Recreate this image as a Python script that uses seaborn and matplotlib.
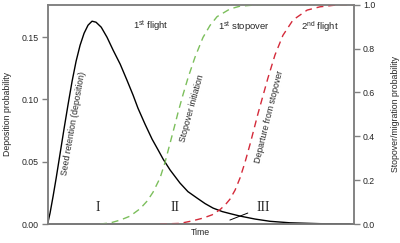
import numpy as np
import pandas as pd
import seaborn as sns
import matplotlib.pyplot as plt
import matplotlib

sns.set_theme(style="white")
plt.rcParams['font.family'] = ['Liberation Sans', 'DejaVu Sans']
plt.rcParams['mathtext.fontset'] = 'custom'
plt.rcParams['mathtext.rm'] = 'Liberation Sans'

# seed deposition curve (left axis)
dep_time = [0.0, 0.08, 0.18, 0.28, 0.41, 0.54, 0.67, 0.80, 0.93, 1.06, 1.19, 1.32, 1.45,
            1.58, 1.75, 1.94, 2.14, 2.37, 2.59, 2.79, 2.95, 3.18, 3.41, 3.61, 3.77, 4.00,
            4.32, 4.58, 4.88, 5.14, 5.40, 5.70, 5.95, 6.28, 6.77, 7.26, 7.91, 8.89, 9.87]
dep_prob = [0.0, 0.0088, 0.0224, 0.0369, 0.0569, 0.0769, 0.0962, 0.1146, 0.1306, 0.1434,
            0.1530, 0.1595, 0.1627, 0.1619, 0.1579, 0.1498, 0.1394, 0.1282, 0.1154, 0.1034,
            0.0929, 0.0801, 0.0681, 0.0593, 0.0521, 0.0433, 0.0329, 0.0260, 0.0208, 0.0164,
            0.0128, 0.0100, 0.0084, 0.0064, 0.0040, 0.0022, 0.0010, 0.0003, 0.0]

# stopover initiation (right axis)
stop_time = [1.71, 2.04, 2.37, 2.69, 3.02, 3.25, 3.44, 3.67, 3.83, 4.00, 4.16, 4.26, 4.42,
             4.58, 4.81, 5.07, 5.30, 5.53, 5.95, 6.28, 6.93, 10.0]
stop_prob = [0.0, 0.005, 0.018, 0.036, 0.070, 0.105, 0.145, 0.21, 0.28, 0.37, 0.455, 0.51,
             0.59, 0.665, 0.76, 0.85, 0.905, 0.945, 0.98, 0.993, 1.0, 1.0]

# departure from stopover (right axis)
dept_time = [3.67, 4.32, 4.71, 5.07, 5.37, 5.63, 5.80, 5.95, 6.12, 6.28, 6.44, 6.61, 6.74,
             6.87, 7.00, 7.19, 7.42, 7.68, 8.01, 8.47, 8.89, 9.54, 10.0]
dept_prob = [0.0, 0.003, 0.014, 0.027, 0.042, 0.066, 0.088, 0.113, 0.155, 0.21, 0.28, 0.365,
             0.435, 0.505, 0.57, 0.665, 0.77, 0.86, 0.93, 0.975, 0.99, 1.0, 1.0]

left_ticks = [0.0, 0.05, 0.10, 0.15]
right_ticks = [0.0, 0.2, 0.4, 0.6, 0.8, 1.0]

spine_col = '#808080'
fs = 6.3

fig = plt.figure(figsize=(4, 2.43), dpi=100)
ax = fig.add_axes([0.119, 0.078, 0.766, 0.903])
ax2 = ax.twinx()

sns.lineplot(x=dep_time, y=dep_prob, ax=ax, color='black', lw=1.0)
sns.lineplot(x=stop_time, y=stop_prob, ax=ax2, color='#7cbf5c', lw=1.0, linestyle='--')
sns.lineplot(x=dept_time, y=dept_prob, ax=ax2, color='#d42a3a', lw=1.0, linestyle='--')
for ln in ax2.lines:
    ln.set_dashes((5, 3.5))

ax.set_xlim(0, 10)
ax.set_ylim(0, 0.176)
ax2.set_ylim(0, 1.0)
ax.set_xticks([])
ax.set_yticks(left_ticks)
ax.set_yticklabels(['0.00', '0.05', '0.10', '0.15'])
ax2.set_yticks(right_ticks)
ax2.set_yticklabels(['0.0', '0.2', '0.4', '0.6', '0.8', '1.0'])

for a in (ax, ax2):
    for s in a.spines.values():
        s.set_color(spine_col)
        s.set_linewidth(1.1)
    a.tick_params(axis='y', direction='out', length=4.5, width=1.0, color=spine_col,
                  labelsize=fs, pad=2)
ax.spines['bottom'].set_color('#404040')
ax.tick_params(axis='y', left=True)
ax2.tick_params(axis='y', right=True)

ax.set_ylabel('Deposition probability', fontsize=fs, labelpad=7)
ax2.set_ylabel('Stopover/migration probability', fontsize=fs, labelpad=11)
ax.set_xlabel('Time', fontsize=fs, labelpad=3)

# phase labels
ax.text(3.38, 0.1587, '1$^{\\rm st}$ flight', fontsize=fs + 0.5, ha='center', va='center')
ax.text(6.41, 0.1580, '1$^{\\rm st}$ stopover', fontsize=fs + 0.5, ha='center', va='center')
ax.text(8.89, 0.1580, '2$^{\\rm nd}$ flight', fontsize=fs + 0.5, ha='center', va='center')

serif = ['Liberation Serif', 'DejaVu Serif']
ax.text(1.65, 0.0136, 'I', fontsize=10, family=serif, ha='center', va='center')
ax.text(4.16, 0.0136, 'II', fontsize=10, family=serif, ha='center', va='center')
ax.annotate('III', xy=(5.95, 0.0032), xytext=(7.03, 0.0136), fontsize=10, family=serif,
            ha='center', va='center',
            arrowprops=dict(arrowstyle='-', color='black', lw=0.7, shrinkA=4, shrinkB=0))

# curve labels
ax.text(0.85, 0.081, 'Seed retention (deposition)', fontsize=fs, rotation=80,
        rotation_mode='anchor', ha='center', va='center')
ax.text(4.71, 0.093, 'Stopover initiation', fontsize=fs, rotation=74.5,
        rotation_mode='anchor', ha='center', va='center')
ax.text(7.23, 0.0857, 'Departure from stopover', fontsize=fs, rotation=76,
        rotation_mode='anchor', ha='center', va='center')

fig.savefig('out.png', dpi=100)
